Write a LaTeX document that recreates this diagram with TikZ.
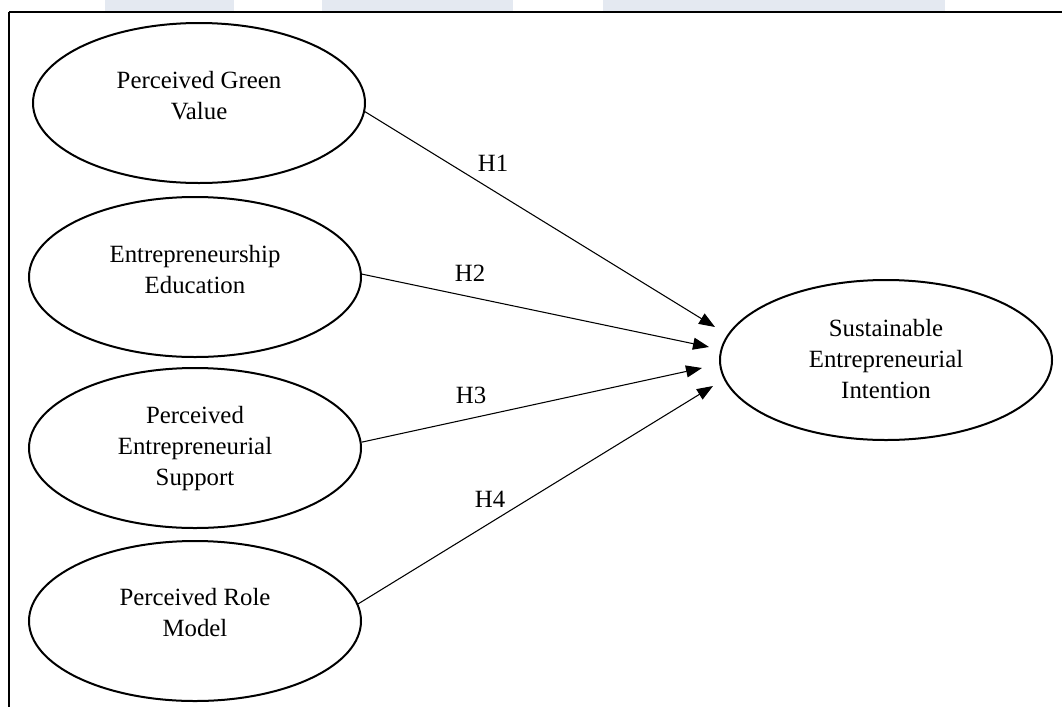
\documentclass[tikz,border=0pt]{standalone}
\usepackage{fontspec}
\setmainfont{Liberation Serif}
\usetikzlibrary{shapes.geometric,arrows.meta}
\definecolor{wmark}{RGB}{228,233,241}
\tikzset{
  construct/.style={ellipse, draw, line width=1.5pt, minimum width=249pt, minimum height=120pt, inner sep=0pt},
  ctext/.style={align=center, font=\fontsize{18.6}{23.25}\selectfont, inner sep=0pt},
  hlabel/.style={font=\fontsize{18.6}{22}\selectfont, inner sep=0pt},
  path/.style={line width=0.8pt, -{Triangle[length=12pt,width=9pt]}},
  frameline/.style={line width=1.4pt}
}
\begin{document}
\begin{tikzpicture}[x=0.75pt,y=-0.75pt]
\useasboundingbox (0,0) rectangle (1062,707);
% watermark bands
\fill[wmark] (105,0) rectangle (234,11);
\fill[wmark] (322,0) rectangle (513,11);
\fill[wmark] (603,0) rectangle (945,11);
% frame
\draw[frameline] (1062,12) -- (9,12);
\draw[line width=1.1pt] (9,12) -- (9,707);
% constructs
\node[construct] (e1) at (199,103) {};
\node[construct] (e2) at (195,277) {};
\node[construct] (e3) at (195,448) {};
\node[construct] (e4) at (195,621) {};
\node[construct] (sei) at (886,360) {};
% texts
\node[ctext] (t1) at (199,96) {Perceived Green\\Value};
\node[ctext] (t2) at (195,270) {Entrepreneurship\\Education};
\node[ctext] (t3) at (195,449) {Perceived\\Entrepreneurial\\Support};
\node[ctext] (t4) at (195,613) {Perceived Role\\Model};
\node[ctext] (ts) at (886,359) {Sustainable\\Entrepreneurial\\Intention};
% arrow tips
\coordinate (p1) at (715,327);
\coordinate (p2) at (709,347);
\coordinate (p3) at (702,368);
\coordinate (p4) at (713,386);
% paths
\draw[path] (e1.-3) -- (p1);
\draw[path] (e2.1) -- (p2);
\draw[path] (e3.2) -- (p3);
\draw[path] (e4.6) -- (p4);
% hypothesis labels
\node[hlabel] (h1) at (493,163) {H1};
\node[hlabel] (h2) at (470,273) {H2};
\node[hlabel] (h3) at (471,395) {H3};
\node[hlabel] (h4) at (490,499) {H4};
\end{tikzpicture}
\end{document}
